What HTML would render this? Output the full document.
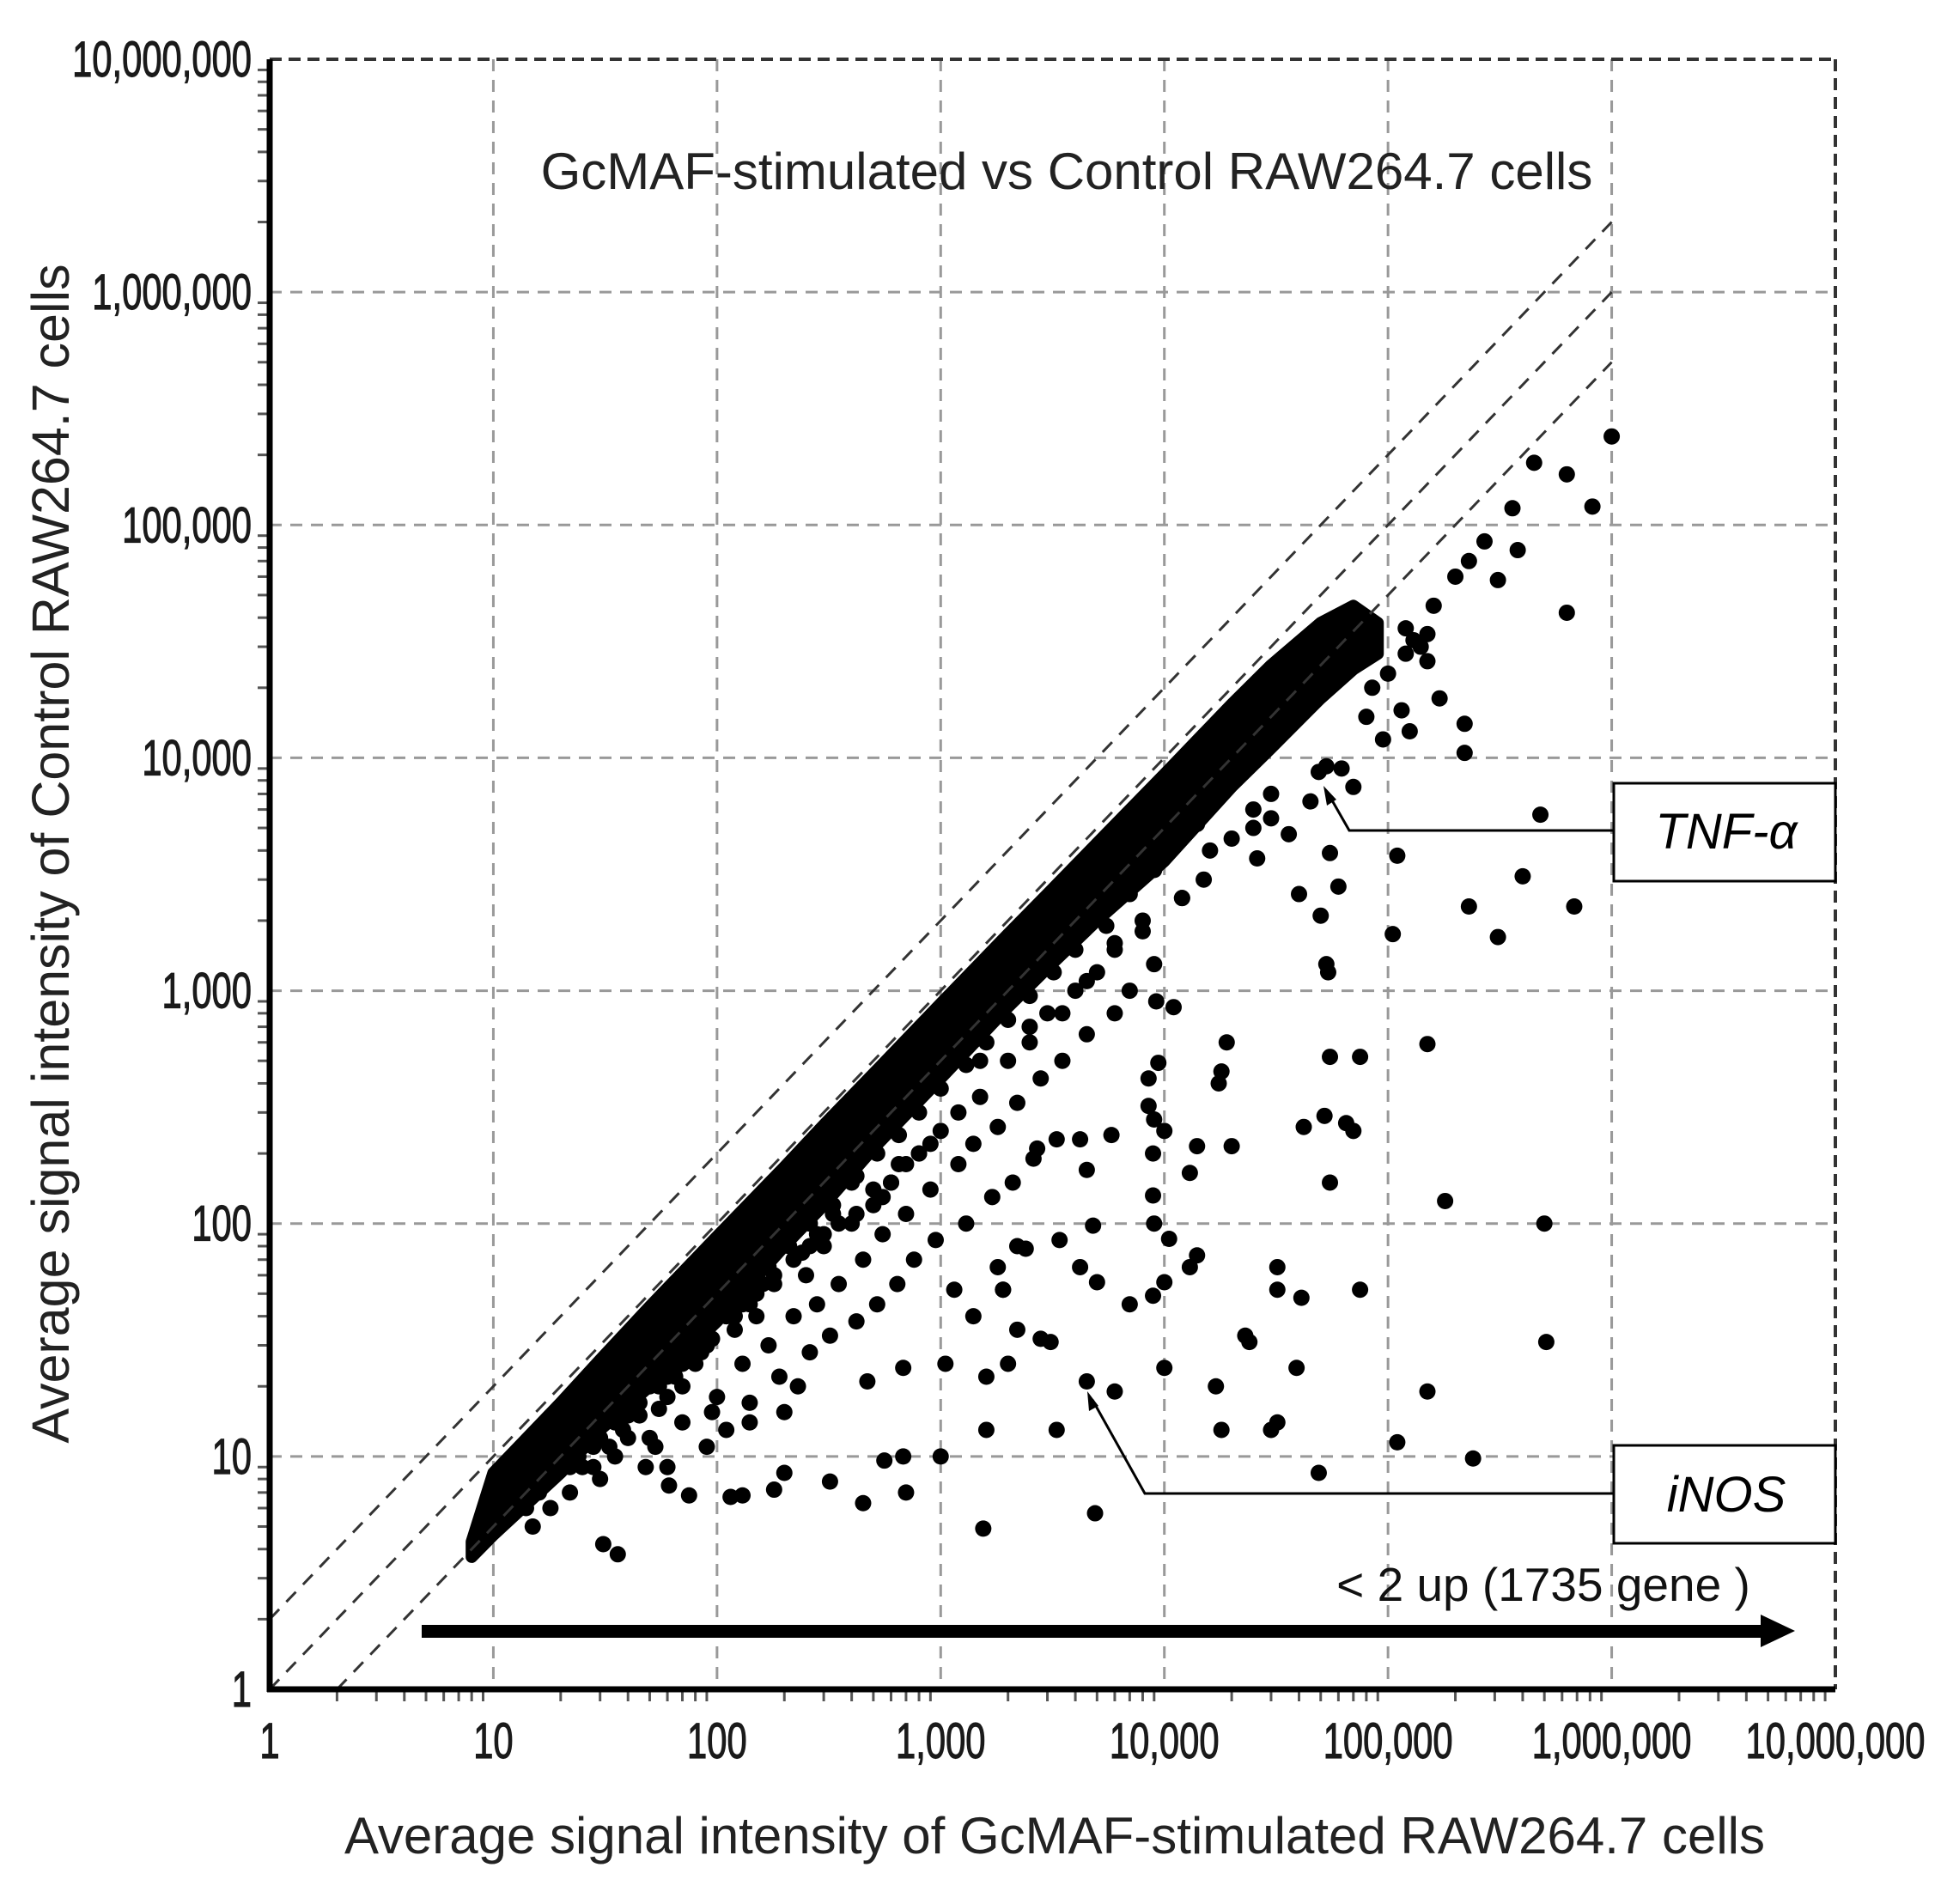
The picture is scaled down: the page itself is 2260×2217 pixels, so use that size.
<!DOCTYPE html>
<html><head><meta charset="utf-8"><style>
html,body{margin:0;padding:0;background:#fff}
svg{display:block}
text{font-family:"Liberation Sans",sans-serif}
</style></head><body>
<svg id="chart" width="2260" height="2217" viewBox="0 0 2260 2217" xmlns="http://www.w3.org/2000/svg">
<g id="grid"></g>
<g id="band"></g>
<g id="pts"></g>
<g id="ref"></g>
<g id="axes"></g>
<text x="1242" y="220" font-size="60" text-anchor="middle" fill="#222">GcMAF-stimulated vs Control RAW264.7 cells</text>
<text x="1228" y="2158" font-size="60" text-anchor="middle" fill="#222">Average signal intensity of GcMAF-stimulated RAW264.7 cells</text>
<text transform="translate(80,994) rotate(-90)" font-size="61" text-anchor="middle" fill="#222">Average signal intensity of  Control RAW264.7 cells</text>
<g>
<rect x="1879" y="912" width="258" height="114" fill="#fff" stroke="#000" stroke-width="3"/>
<text x="2010" y="988" font-size="58" font-style="italic" text-anchor="middle">TNF-α</text>
<polyline points="1879,967 1571,967 1547,925" fill="none" stroke="#000" stroke-width="3"/>
<polygon points="1541,915 1545,938 1556,931" fill="#000"/>
</g>
<g>
<rect x="1879" y="1683" width="258" height="114" fill="#fff" stroke="#000" stroke-width="3"/>
<text x="2010" y="1760" font-size="58" font-style="italic" text-anchor="middle">iNOS</text>
<polyline points="1879,1739 1333,1739 1272,1630" fill="none" stroke="#000" stroke-width="3"/>
<polygon points="1266,1620 1268,1643 1279,1637" fill="#000"/>
</g>
<g>
<rect x="491" y="1892" width="1565" height="15" fill="#000"/>
<polygon points="2050,1880 2090,1899 2050,1918" fill="#000"/>
<text x="1797" y="1864" font-size="55" text-anchor="middle" fill="#111">&lt; 2 up (1735 gene )</text>
</g>
</svg>
<script>
const tickValues = [1,10,100,1000,10000,100000,1000000,10000000];
const tickLabels = ["1","10","100","1,000","10,000","100,000","1,000,000","10,000,000"];
const bandX = [8,10,20,30,50,100,200,300,500,1000,2000,3000,5000,10000,20000,30000,50000,70000,90000];
const bandTop = [4.3,8.5,17,26,44,88,175,265,440,880,1750,2600,4300,8500,17000,25000,38000,45000,38000];
const bandBot = [3.7,4.6,8.5,13,20,38,80,120,210,420,850,1250,2000,3600,7500,11000,18000,24000,28000];
const ptX = [1000000,450000,630000,820000,630000,360000,380000,310000,270000,230000,200000,160000,130000,150000,120000,100000,85000,
49000,53000,70000,55000,110000,220000,220000,480000,400000,680000,310000,230000,105000,50000,53000,54000,150000,55000,75000,52000,65000,70000,42000,55000,180000,500000,510000,75000,32000,32000,41000,23000,24000,39000,32000,30000,49000,110000,150000,240000,18000,17000,14000,10500,10000,10000,13000,8900,9000,8900,6000,4500,4900,3300,2800,3100,2200,2000,1600,1800,2400,3400,4200,5000,4800,1000,1550,1600,680,700,450,320,560,200,180,130,115,75,61,36,31,53,48,95,140,200,230,470,680,1050,1900,8900,13000,14000,20000,19000,17500,18000,11000,9200,9400,8500,8500,9000,10000,5800,4200,4500,2700,2200,7000,1150,1900,1400,
120000,140000,150000,170000,115000,125000,95000,80000,62000,45000,36000,30000,26000,40000,60000,
700,600,500,420,350,300,260,220,180,150,130,110,95,80,70,60,50,45,40,35,30,25,22,
1200,1500,2500,3500,4500,6000,8000,12000,16000,25000,900,800,650,550,400,330,280,240,160,140,120,90,75,65,55,42,38,28,24,20,18,16,14,
30,40,25,35,45,60,70,80,90,120,150,180,250,300,400,500,600,800,1000,1500,2000,2500,3000,4000,5000,6000,8000,12000,15000,20000,25000,30000,
50,70,100,130,170,220,280,350,450,550,700,900,1200,1400,1800,2200,2800,3500,4500,6000,7000,9000,
60,90,110,140,190,260,320,420,520,640,760,950,1300,1700,2100,2600,3300,
15,18,22,28,33,38,55,65,85,110,140,170,210,260,330,420,520,650,800,1000,1300,1600,2000,2500,3200,4000,5500,7000,9000,11000,14000,18000,23000,28000,35000,45000];
const ptY = [240000,185000,165000,120000,42000,118000,78000,58000,85000,70000,60000,45000,32000,34000,28000,23000,20000,
8700,9200,7500,3900,3800,10500,14000,5700,3100,2300,1700,2300,1750,2100,1300,1200,590,520,520,290,270,250,260,150,125,100,31,52,65,52,48,33,31,24,14,13,8.5,11.5,19,9.8,13,20,73,86,56,24,65,132,100,49,19,21,5.7,13,32,31,35,25,22,65,78,85,65,56,98,10,4.9,13,10,7,6.3,7.8,9.6,8.5,7.2,6.8,6.7,6.8,7.5,3.8,4.2,11,9,15.5,14,15.5,20,21,24,25,52,200,165,215,215,600,400,450,850,900,490,420,320,280,250,240,230,170,210,80,45,52,52,40,
36000,30000,26000,18000,16000,13000,12000,15000,9000,6500,4700,5500,3700,2600,2800,
180,150,140,110,100,90,80,70,60,50,45,40,32,28,25,22,20,17,15,14,12,11,9,
300,500,700,800,1100,1600,1800,2500,4000,6000,220,200,180,130,150,110,90,75,55,45,40,30,28,24,20,16,15,11,10,9,8,7,6,
8,12,9,10,15,18,20,25,30,35,40,55,60,80,100,120,150,200,250,350,500,600,800,1000,1200,1500,2000,2500,3000,4500,5000,7000,
12,14,18,25,30,40,45,55,70,90,110,140,180,220,260,330,420,500,650,800,1000,1300,
9,11,13,17,22,28,33,38,45,55,70,85,100,130,150,190,230,
5,6,7,9,11,13,16,22,28,40,50,65,80,100,120,160,200,240,300,380,480,600,750,950,1200,1500,1900,2600,3300,4200,5200,7000,9000,11000,14000,17000];
const NS='http://www.w3.org/2000/svg';
const PL=314,PR=2137,PT=69,PB=1967;
function X(v){return PL+(PR-PL)/7*Math.log10(v);}
function Y(v){return PB-(PB-PT)/7*Math.log10(v);}
function mk(tag,attrs,parent){const e=document.createElementNS(NS,tag);for(const k in attrs)e.setAttribute(k,attrs[k]);parent.appendChild(e);return e;}
const gridG=document.getElementById('grid'),axesG=document.getElementById('axes');
tickValues.forEach((v,i)=>{
  if(i>0&&i<7){
    const gl=mk('line',{x1:X(v),x2:X(v),y1:PT,y2:PB,stroke:'#999','stroke-width':3,'stroke-dasharray':'14 10'},gridG);
    
    
    const hl=mk('line',{x1:PL,x2:PR,y1:Y(v),y2:Y(v),stroke:'#999','stroke-width':3,'stroke-dasharray':'14 10'},gridG);
    
    
  }
  const tx=mk('text',{transform:`translate(${X(v)},2047) scale(0.72,1)`,'font-size':58,'text-anchor':'middle',fill:'#1a1a1a',stroke:'#1a1a1a','stroke-width':1.2},axesG);
  tx.textContent=tickLabels[i];
  
  
  const ty=mk('text',{transform:`translate(293,${Y(v)+20}) scale(0.72,1)`,'font-size':58,'text-anchor':'end',fill:'#1a1a1a',stroke:'#1a1a1a','stroke-width':1.2},axesG);
  ty.textContent=tickLabels[i];
  
  
  if(i<7){for(let m=2;m<=9;m++){const mv=v*m;
    mk('line',{x1:X(mv),x2:X(mv),y1:PB,y2:PB+14,stroke:'#555','stroke-width':3},axesG);
    mk('line',{x1:PL-14,x2:PL,y1:Y(mv),y2:Y(mv),stroke:'#555','stroke-width':3},axesG);}}
});
const topBorder=mk('line',{x1:PL,x2:PR,y1:PT,y2:PT,stroke:'#333','stroke-width':4,'stroke-dasharray':'14 8'},axesG);


const rightBorder=mk('line',{x1:PR,x2:PR,y1:PT,y2:PB,stroke:'#333','stroke-width':4,'stroke-dasharray':'14 8'},axesG);


const xAxisLine=mk('line',{x1:PL-3,x2:PR,y1:PB,y2:PB,stroke:'#000','stroke-width':7},axesG);


const yAxisLine=mk('line',{x1:PL,x2:PL,y1:PT,y2:PB+3,stroke:'#000','stroke-width':7},axesG);


const refFold=[2,1,0.5];
const refG=document.getElementById('ref');
refFold.forEach(f=>{
  const x0=f>=1?1:1/f, x1=1000000;
  const ln=mk('line',{x1:X(x0),y1:Y(x0*f),x2:X(x1),y2:Y(x1*f),stroke:'#333','stroke-width':3,'stroke-dasharray':'16 12'},refG);
  
  
});
let bandPath='';
bandX.forEach((v,i)=>{bandPath+=(i?'L':'M')+X(v)+','+Y(bandTop[i]);});
for(let i=bandX.length-1;i>=0;i--){bandPath+='L'+X(bandX[i])+','+Y(bandBot[i]);}
const bp=mk('path',{d:bandPath+'Z',fill:'#000',stroke:'#000','stroke-width':14,'stroke-linejoin':'round'},document.getElementById('band'));


const ptsG=document.getElementById('pts');
ptX.forEach((v,i)=>{
  const c=mk('circle',{cx:X(v),cy:Y(ptY[i]),r:9.5,fill:'#000'},ptsG);
  
  
});
</script>
</body></html>
